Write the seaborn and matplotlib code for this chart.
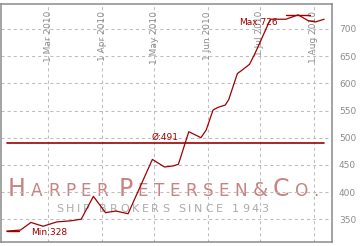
import numpy as np
import pandas as pd
import matplotlib
matplotlib.use("Agg")
import matplotlib.pyplot as plt
import matplotlib.dates as mdates
import seaborn as sns

# ---- data ----
dates = ["2010-02-05", "2010-02-13", "2010-02-19", "2010-02-26", "2010-03-06",
         "2010-03-14", "2010-03-20", "2010-03-27", "2010-04-03", "2010-04-09",
         "2010-04-16", "2010-04-30", "2010-05-07", "2010-05-12", "2010-05-15",
         "2010-05-21", "2010-05-28", "2010-05-31", "2010-06-04", "2010-06-07",
         "2010-06-11", "2010-06-13", "2010-06-18", "2010-06-21", "2010-06-25",
         "2010-06-28", "2010-07-01", "2010-07-07", "2010-07-16", "2010-07-23",
         "2010-07-29", "2010-08-02", "2010-08-07"]
values = [328, 330, 344, 337, 345,
          347, 350, 392, 362, 365,
          360, 460, 446, 448, 451,
          511, 500, 514, 551, 556,
          560, 570, 618, 625, 635,
          654, 675, 718, 718, 726,
          715, 713, 718]
avg_value = 491
tick_dates = ["2010-03-01", "2010-04-01", "2010-05-01", "2010-06-01", "2010-07-01", "2010-08-01"]
tick_labels = ["1 Mar 2010", "1 Apr 2010", "1 May 2010", "1 Jun 2010", "1 Jul 2010", "1 Aug 2010"]
y_ticks = [350, 400, 450, 500, 550, 600, 650, 700]
brand_words = [[("H", "big"), ("ARPER", "small")],
               [("P", "big"), ("ETERSEN", "small"), ("&", "amp"), ("C", "big"), ("O.", "small")]]
brand_sub = "SHIP BROKERS SINCE 1943"

# ---- style ----
sns.set_style("white")
plt.rcParams["font.family"] = ["DejaVu Sans"]
plt.rcParams["lines.scale_dashes"] = False

RED = "#a00000"
GRID = "#bdbdbd"
TICKC = "#8c8c8c"
FS = 6.5

fig = plt.figure(figsize=(3.6, 2.46), dpi=100)
fig.patch.set_facecolor("white")
ax = fig.add_axes([1 / 360, 4 / 246, 331 / 360, 238 / 246])
ax.set_facecolor("white")

df = pd.DataFrame({"date": pd.to_datetime(dates), "value": values})
sns.lineplot(data=df, x="date", y="value", ax=ax, color=RED, linewidth=0.9, zorder=4)

vmin, vmax = min(values), max(values)
ax.set_ylim(vmin - 20, vmax + 20)
ax.set_xlim(pd.Timestamp("2010-02-01 18:00"), pd.Timestamp("2010-08-11 13:00"))

# grid & ticks
ax.set_xticks(pd.to_datetime(tick_dates))
ax.set_yticks(y_ticks)
ax.set_axisbelow("line")
ax.grid(True, color=GRID, linestyle=(0, (2.2, 2.2)), linewidth=0.75)
ax.tick_params(axis="x", length=0, labelbottom=False)
ax.yaxis.tick_right()
ax.tick_params(axis="y", length=0, pad=5, labelsize=FS, labelcolor=TICKC)
ax.set_xlabel("")
ax.set_ylabel("")
for s in ax.spines.values():
    s.set_color("#8a8a8a")
    s.set_linewidth(1.1)

# rotated month labels inside the top of the plot
for d, lab in zip(tick_dates, tick_labels):
    ax.annotate(lab, xy=(mdates.date2num(pd.Timestamp(d)), 1), xycoords=("data", "axes fraction"),
                xytext=(0, -7), textcoords="offset pixels", rotation=90,
                ha="center", va="top", fontsize=FS, color="#909090", zorder=2)

# average line
d0, d1 = df["date"].iloc[0], df["date"].iloc[-1]
ax.plot([d0, d1], [avg_value, avg_value], color=RED, linewidth=1.2, zorder=3)
dmid = d0 + (d1 - d0) / 2
ax.annotate(f"Ø:{avg_value}", xy=(mdates.date2num(dmid), avg_value), xytext=(0, 1),
            textcoords="offset pixels", ha="center", va="bottom", fontsize=FS, color=RED, zorder=5)

# min / max markers
half = pd.Timedelta(days=7)
i_min, i_max = int(np.argmin(values)), int(np.argmax(values))
tmin, tmax = df["date"].iloc[i_min], df["date"].iloc[i_max]
min_lo, min_hi = max(tmin - half, d0), min(tmin + half, d1)
max_lo, max_hi = max(tmax - half, d0), min(tmax + half, d1)
ax.plot([min_lo, min_hi], [vmin, vmin], color=RED, linewidth=1.0, zorder=4)
ax.plot([max_lo, max_hi], [vmax, vmax], color=RED, linewidth=1.0, zorder=4)
ax.annotate(f"Min:{vmin}", xy=(mdates.date2num(min_hi), vmin), xytext=(12, -1),
            textcoords="offset pixels", ha="left", va="center", fontsize=FS, color=RED, zorder=5)
ax.annotate(f"Max:{vmax}", xy=(mdates.date2num(max_lo), vmax), xytext=(-8, -8),
            textcoords="offset pixels", ha="right", va="center", fontsize=FS, color=RED, zorder=5)

# watermark (letter-spaced, small caps)
sizes = {"big": 17.0, "small": 12.2, "amp": 14.0}
WM = "#c88282"


def chain_text(chunks, x0, y0, gap, color, word_gap=None):
    prev = None
    first_in_word = False
    for chunk in chunks:
        if chunk is None:
            first_in_word = True
            continue
        txt, size = chunk
        for ch in txt:
            if prev is None:
                t = ax.annotate(ch, xy=(x0, y0), xycoords="figure pixels", ha="left",
                                va="baseline", fontsize=size, color=color, zorder=1)
            else:
                g = word_gap if (first_in_word and word_gap is not None) else gap
                t = ax.annotate(ch, xy=(1, y0), xycoords=(prev, "figure pixels"),
                                xytext=(g, 0), textcoords="offset pixels", ha="left",
                                va="baseline", fontsize=size, color=color, zorder=1)
            first_in_word = False
            prev = t


main_chunks = []
for wi, word in enumerate(brand_words):
    if wi > 0:
        main_chunks.append(None)
    for txt, kind in word:
        main_chunks.append((txt, sizes[kind]))
chain_text(main_chunks, 8, 246 - 196, 5.3, WM, word_gap=10)
chain_text([(brand_sub, 8.0)], 56, 246 - 211.7, 2.8, "#ababab")

fig.savefig("out.png", dpi=100, facecolor="white")
